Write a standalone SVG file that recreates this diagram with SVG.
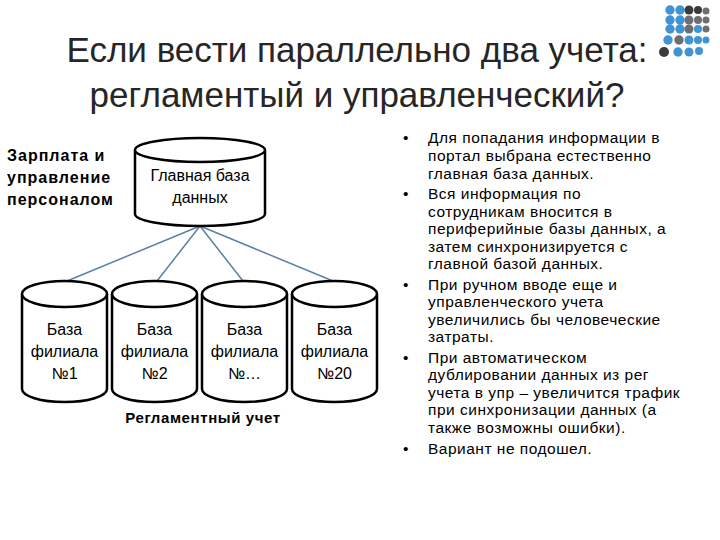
<svg xmlns="http://www.w3.org/2000/svg" width="720" height="540" viewBox="0 0 720 540">
<defs>
<style>
.cyl{fill:#fff;stroke:#000;stroke-width:2.5}
.t{font-family:"Liberation Sans",Arial,sans-serif;fill:#000}
.title{font-family:"Liberation Sans",Arial,sans-serif;font-size:35px;fill:#262626;text-anchor:middle}
.lbl{font-size:16px;text-anchor:middle}
.b{font-size:16px;font-weight:bold;letter-spacing:1px}
.r{font-size:15px;font-weight:bold;letter-spacing:0.6px}
.bl{font-size:15.5px;letter-spacing:0.5px}
.con{stroke:#5b7fa8;stroke-width:1.5;fill:none}
.db{fill:#3f95d3}.dg{fill:#6d6e70}.dk{fill:#3b3b3d}
</style>
</defs>
<rect width="720" height="540" fill="#fff"/>
<g id="logo">
<circle class="db" cx="670" cy="10" r="4.7"/><circle class="db" cx="680" cy="10" r="4.7"/><circle class="dk" cx="689" cy="10" r="4.5"/><circle class="dk" cx="698" cy="10" r="4"/><circle class="dg" cx="706" cy="11" r="3.5"/>
<circle class="db" cx="670" cy="20" r="4.7"/><circle class="db" cx="680" cy="20" r="4.7"/><circle class="dg" cx="689" cy="20" r="4.5"/><circle class="dg" cx="698" cy="20" r="4"/><circle class="dg" cx="706" cy="20" r="3.5"/>
<circle class="db" cx="670" cy="29" r="4.7"/><circle class="db" cx="680" cy="29" r="4.7"/><circle class="dg" cx="689" cy="29" r="4.5"/><circle class="db" cx="698" cy="29" r="4"/><circle class="dg" cx="706" cy="29" r="3.5"/>
<circle class="db" cx="668" cy="40" r="4.7"/><circle class="dg" cx="679" cy="40" r="4.7"/><circle class="db" cx="689" cy="40" r="4.5"/><circle class="db" cx="698" cy="40" r="4"/><circle class="db" cx="706" cy="40" r="3.5"/>
<circle class="dk" cx="664" cy="52" r="5"/><circle class="db" cx="678" cy="52" r="4.7"/><circle class="db" cx="689" cy="52" r="4.5"/><circle class="db" cx="699" cy="51" r="4"/>
</g>
<g id="title">
<text class="title" x="357" y="62">Если вести параллельно два учета:</text>
<text class="title" x="357" y="107">регламентый и управленческий?</text>
</g>
<g id="connectors">
<line class="con" x1="200" y1="226" x2="67" y2="281"/>
<line class="con" x1="200" y1="226" x2="157" y2="281"/>
<line class="con" x1="200" y1="226" x2="243" y2="281"/>
<line class="con" x1="200" y1="226" x2="333" y2="281"/>
</g>
<g id="label-hr">
<text class="t b" x="7" y="161">Зарплата и</text>
<text class="t b" x="7" y="183">управление</text>
<text class="t b" x="7" y="205">персоналом</text>
</g>
<g id="main-db">
<path class="cyl" d="M135,150 V214 A65,12 0 0 0 265,214 V150"/>
<ellipse class="cyl" cx="200" cy="150" rx="65" ry="12"/>
<text class="t lbl" x="200" y="181" font-size="15">Главная база</text>
<text class="t lbl" x="200" y="203" font-size="15">данных</text>
</g>
<g id="db1">
<path class="cyl" d="M22,294 V389 A42.5,13 0 0 0 107,389 V294"/>
<ellipse class="cyl" cx="64.5" cy="294" rx="42.5" ry="13"/>
<text class="t lbl" x="64.5" y="335">База</text><text class="t lbl" x="64.5" y="357">филиала</text><text class="t lbl" x="64.5" y="379">№1</text>
</g>
<g id="db2">
<path class="cyl" d="M112,294 V389 A42.5,13 0 0 0 197,389 V294"/>
<ellipse class="cyl" cx="154.5" cy="294" rx="42.5" ry="13"/>
<text class="t lbl" x="154.5" y="335">База</text><text class="t lbl" x="154.5" y="357">филиала</text><text class="t lbl" x="154.5" y="379">№2</text>
</g>
<g id="db3">
<path class="cyl" d="M202,294 V389 A42.5,13 0 0 0 287,389 V294"/>
<ellipse class="cyl" cx="244.5" cy="294" rx="42.5" ry="13"/>
<text class="t lbl" x="244.5" y="335">База</text><text class="t lbl" x="244.5" y="357">филиала</text><text class="t lbl" x="244.5" y="379">№…</text>
</g>
<g id="db20">
<path class="cyl" d="M292,294 V389 A42.5,13 0 0 0 377,389 V294"/>
<ellipse class="cyl" cx="334.5" cy="294" rx="42.5" ry="13"/>
<text class="t lbl" x="334.5" y="335">База</text><text class="t lbl" x="334.5" y="357">филиала</text><text class="t lbl" x="334.5" y="379">№20</text>
</g>
<g id="label-reg">
<text class="t r" x="203" y="423" text-anchor="middle">Регламентный учет</text>
</g>
<g id="bullets" class="t bl">
<text x="403" y="143">•</text>
<text x="428" y="143">Для попадания информации в</text>
<text x="428" y="161">портал выбрана естественно</text>
<text x="428" y="179">главная база данных.</text>
<text x="403" y="199">•</text>
<text x="428" y="199">Вся информация по</text>
<text x="428" y="217">сотрудникам вносится в</text>
<text x="428" y="234">периферийные базы данных, а</text>
<text x="428" y="252">затем синхронизируется с</text>
<text x="428" y="269">главной базой данных.</text>
<text x="403" y="290">•</text>
<text x="428" y="290">При ручном вводе еще и</text>
<text x="428" y="307">управленческого учета</text>
<text x="428" y="325">увеличились бы человеческие</text>
<text x="428" y="342">затраты.</text>
<text x="403" y="363">•</text>
<text x="428" y="363">При автоматическом</text>
<text x="428" y="380">дублировании данных из рег</text>
<text x="428" y="398">учета в упр – увеличится трафик</text>
<text x="428" y="415">при синхронизации данных (а</text>
<text x="428" y="433">также возможны ошибки).</text>
<text x="403" y="454">•</text>
<text x="428" y="454">Вариант не подошел.</text>
</g>
</svg>
